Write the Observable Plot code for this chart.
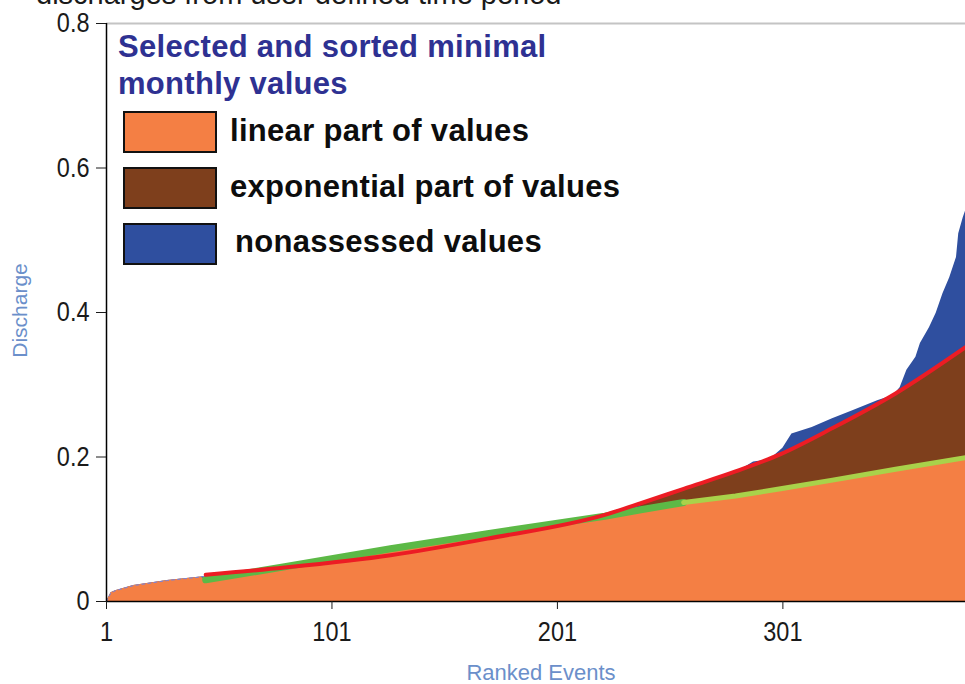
<!DOCTYPE html>
<html><head><meta charset="utf-8">
<script src="https://cdn.jsdelivr.net/npm/d3@7"></script>
<script src="https://cdn.jsdelivr.net/npm/@observablehq/plot@0.6"></script>
<style>
body{margin:0;background:#fff;}
#wrap{position:relative;width:965px;height:684px;overflow:hidden;font-family:"Liberation Sans",Arial,sans-serif;}
#wrap svg.overlay{position:absolute;left:0;top:0;pointer-events:none;}
</style></head><body><div id="wrap"></div>
<script>
// Sorted minimal monthly discharges (rank -> value)
const sortedRank  = [1, 2, 3, 5, 13, 28, 43, 45, 80, 127, 170, 222, 257, 280, 288, 295, 301, 305, 314, 323, 332, 343, 350, 353, 356, 360, 362, 366, 369, 372, 375, 378, 379, 381, 382];
const sortedValue = [0, 0.006, 0.012, 0.015, 0.022, 0.029, 0.034, 0.035, 0.046, 0.066, 0.088, 0.117, 0.152, 0.178, 0.193, 0.196, 0.212, 0.232, 0.241, 0.253, 0.264, 0.278, 0.285, 0.296, 0.320, 0.338, 0.357, 0.379, 0.399, 0.426, 0.448, 0.476, 0.509, 0.531, 0.540];
// Fitted curves read at common ranks
const fitRank     = [45, 80, 127, 170, 222, 238, 257, 280, 300, 323, 351, 382];
const linearValue = [0.030, 0.048, 0.073, 0.094, 0.118, 0.127, 0.137, 0.146, 0.156, 0.168, 0.183, 0.199];
const expValue    = [0.037, 0.047, 0.064, 0.087, 0.120, 0.136, 0.156, 0.180, 0.204, 0.240, 0.288, 0.352];
const xTicks = [1, 101, 201, 301];
const yTicks = [0, 0.2, 0.4, 0.6, 0.8];
const topTitle = "discharges from user defined time period";
const legendTitle = ["Selected and sorted minimal", "monthly values"];
const legendLabels = ["linear part of values", "exponential part of values", "nonassessed values"];
const legendColors = ["#f47f44", "#7e3f1c", "#2f4f9f"];
const xLabel = "Ranked Events";
const yLabel = "Discharge";

const ORANGE = legendColors[0], BROWN = legendColors[1], BLUE = legendColors[2];

const data = sortedRank.map((r, i) => ({rank: r, value: sortedValue[i]}));
const fits = fitRank.map((r, i) => ({rank: r, lin: linearValue[i], exp: expValue[i]}));
const orangeTop = data.filter(d => d.rank < fitRank[0])
  .concat(fits.map(d => ({rank: d.rank, value: d.lin})));

const chart = Plot.plot({
  width: 965, height: 684,
  marginLeft: 106, marginRight: 0, marginTop: 23, marginBottom: 83,
  x: {domain: [1, 382]},
  y: {domain: [0, 0.8]},
  style: {fontFamily: "'Liberation Sans', Arial, sans-serif", background: "white", color: "#1a1a1a"},
  marks: [
    Plot.areaY(data, {x: "rank", y: "value", fill: BLUE}),
    Plot.areaY(fits.filter(d => d.rank >= 238), {x: "rank", y1: "lin", y2: "exp", fill: BROWN, curve: "monotone-x"}),
    Plot.areaY(orangeTop, {x: "rank", y: "value", fill: ORANGE}),
    Plot.line(data.filter(d => d.rank <= 45), {x: "rank", y: "value", stroke: "#7d83d6", strokeWidth: 1, strokeDasharray: "3,3"}),
    Plot.line(fits.filter(d => d.rank <= 257), {x: "rank", y: "lin", stroke: "#5cb946", strokeWidth: 7}),
    Plot.line(fits.filter(d => d.rank >= 257), {x: "rank", y: "lin", stroke: "#a9d24a", strokeWidth: 5}),
    Plot.line(fits, {x: "rank", y: "exp", stroke: "#ec1c24", strokeWidth: 4, curve: "monotone-x"}),
    Plot.ruleY([0.8], {stroke: "#c4c4c4", strokeWidth: 2}),
    Plot.ruleX([1], {stroke: "#000", strokeWidth: 1.5}),
    Plot.ruleY([0], {stroke: "#000", strokeWidth: 1.5}),
    Plot.axisX({ticks: xTicks, tickSize: 8, tickPadding: 12, fontSize: 28, label: null, tickFormat: d => String(d)}),
    Plot.axisY({ticks: yTicks, tickSize: 10, tickPadding: 7, fontSize: 28, label: null, tickFormat: d => d === 0 ? "0" : d.toFixed(1)}),
    Plot.text([xLabel], {frameAnchor: "bottom", lineAnchor: "middle", dy: 71, dx: 5, text: d => d, fill: "#6b8fca", fontSize: 22}),
    Plot.text([yLabel], {frameAnchor: "left", textAnchor: "middle", lineAnchor: "middle", dx: -86, dy: -2, rotate: -90, text: d => d, fill: "#6b8fca", fontSize: 21})
  ]
});
// narrow (condensed) look of the tick labels, as in the reference
d3.select(chart).selectAll('g[aria-label="x-axis tick label"] text, g[aria-label="y-axis tick label"] text')
  .attr("transform", function () { return (this.getAttribute("transform") || "") + " scale(0.84,1)"; });
document.getElementById("wrap").appendChild(chart);

// Legend + clipped top title overlay
const ov = d3.select("#wrap").append("svg").attr("class", "overlay").attr("width", 965).attr("height", 684)
  .style("font-family", "'Liberation Sans', Arial, sans-serif");
ov.append("text").attr("x", 36).attr("y", 4).attr("font-size", 29).attr("fill", "#1a1a1a").text(topTitle);
ov.selectAll("text.lt").data(legendTitle).join("text").attr("class", "lt")
  .attr("x", 118).attr("y", (d, i) => 57 + i * 36.5)
  .attr("font-size", 31).attr("font-weight", "bold").attr("letter-spacing", 0.3).attr("fill", "#2e3192").text(d => d);
ov.selectAll("rect.sw").data(legendColors).join("rect").attr("class", "sw")
  .attr("x", 124).attr("y", (d, i) => 112 + i * 56).attr("width", 92).attr("height", 40)
  .attr("fill", d => d).attr("stroke", "#111").attr("stroke-width", 2);
ov.selectAll("text.lb").data(legendLabels).join("text").attr("class", "lb")
  .attr("x", (d, i) => i === 2 ? 235 : 230).attr("y", (d, i) => 141 + i * 55.5)
  .attr("font-size", 31).attr("font-weight", "bold").attr("letter-spacing", 0.3).attr("fill", "#0d0d0d").text(d => d);
</script></body></html>
